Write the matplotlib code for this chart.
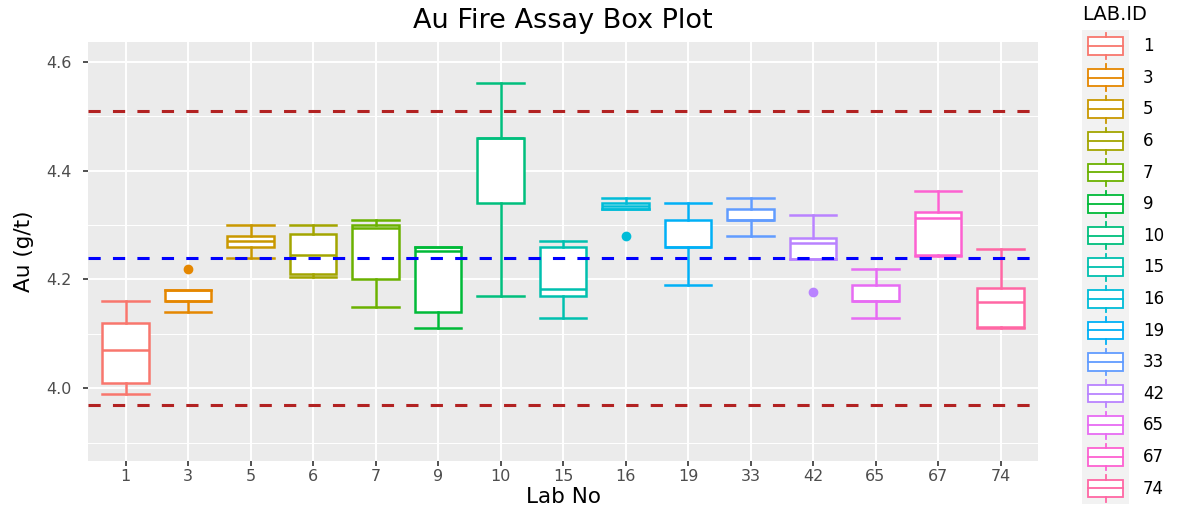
import matplotlib
matplotlib.use("Agg")
import matplotlib.pyplot as plt
import matplotlib.patches as mpatches
from matplotlib.lines import Line2D
from matplotlib.legend_handler import HandlerBase

plt.rcParams['font.family'] = ['DejaVu Sans']

labs = ["1", "3", "5", "6", "7", "9", "10", "15", "16", "19", "33", "42", "65", "67", "74"]
whislo = [3.99, 4.14, 4.24, 4.205, 4.15, 4.11, 4.17, 4.13, 4.33, 4.19, 4.28, 4.237, 4.13, 4.243, 4.11]
q1 = [4.01, 4.16, 4.26, 4.21, 4.20, 4.14, 4.34, 4.17, 4.33, 4.26, 4.31, 4.237, 4.16, 4.244, 4.113]
med = [4.07, 4.16, 4.27, 4.245, 4.294, 4.252, 4.46, 4.182, 4.335, 4.26, 4.31, 4.266, 4.16, 4.312, 4.159]
q3 = [4.12, 4.18, 4.28, 4.284, 4.30, 4.259, 4.46, 4.259, 4.34, 4.309, 4.33, 4.276, 4.189, 4.324, 4.184]
whishi = [4.16, 4.18, 4.30, 4.30, 4.31, 4.259, 4.56, 4.27, 4.35, 4.34, 4.35, 4.318, 4.22, 4.362, 4.256]
fliers = [[], [4.22], [], [], [], [], [], [], [4.28], [], [], [4.176], [], [], []]
colors = ["#F8766D", "#E58700", "#C99800", "#A3A500", "#6BB100", "#00BA38", "#00BF7D", "#00C0AF",
          "#00BCD8", "#00B0F6", "#619CFF", "#B983FF", "#E76BF3", "#FD61D1", "#FF67A4"]
limits = [3.97, 4.51]
target = 4.24

fig = plt.figure(figsize=(11.81, 5.11), dpi=100)
ax = fig.add_axes([88/1181, 50/511, 950/1181, 419/511])
ax.set_facecolor("#EBEBEB")

positions = list(range(1, len(labs) + 1))
stats = []
for i in range(len(labs)):
    stats.append(dict(whislo=whislo[i], q1=q1[i], med=med[i], q3=q3[i], whishi=whishi[i], fliers=fliers[i]))

bp = ax.bxp(stats, positions=positions, widths=0.75, capwidths=0.75, patch_artist=True,
            manage_ticks=False, zorder=3)
lw = 1.8
for i, c in enumerate(colors):
    bp['boxes'][i].set(facecolor="white", edgecolor=c, linewidth=lw)
    bp['medians'][i].set(color=c, linewidth=lw)
    for j in (2*i, 2*i + 1):
        bp['whiskers'][j].set(color=c, linewidth=lw)
        bp['caps'][j].set(color=c, linewidth=lw)
    bp['fliers'][i].set(marker='o', markerfacecolor=c, markeredgecolor=c, markersize=6)

for v in limits:
    ax.axhline(v, color="#B22222", lw=2.2, ls=(0, (4, 4)), zorder=4)
ax.axhline(target, color="#0000FF", lw=2.2, ls=(0, (4, 4)), zorder=4)

ax.set_xlim(0.4, len(labs) + 0.6)
ax.set_ylim(3.8665, 4.636)
ax.set_xticks(positions)
ax.set_xticklabels(labs)
ax.set_yticks([4.0, 4.2, 4.4, 4.6])
ax.set_yticks([3.9, 4.1, 4.3, 4.5], minor=True)
ax.grid(True, which='major', color='white', lw=1.4, zorder=0)
ax.grid(True, which='minor', axis='y', color='white', lw=0.7, zorder=0)
ax.set_axisbelow(True)
for s in ax.spines.values():
    s.set_visible(False)
ax.tick_params(which='major', length=3.5, width=1.2, color='#333333', labelcolor='#4D4D4D', labelsize=11.5)
ax.tick_params(axis='x', pad=2.5)
ax.tick_params(axis='y', pad=8)
ax.tick_params(which='minor', length=0)

ax.set_title("Au Fire Assay Box Plot", fontsize=19.5, pad=10)
ax.set_xlabel("Lab No", fontsize=15.5, labelpad=2)
ax.set_ylabel("Au (g/t)", fontsize=15.5, labelpad=9)


class BoxHandler(HandlerBase):
    def create_artists(self, legend, orig_handle, xdescent, ydescent, width, height, fontsize, trans):
        c = orig_handle.get_edgecolor()
        x0 = -xdescent
        y0 = -ydescent
        bg = mpatches.Rectangle((x0, y0), width, height, facecolor="#F2F2F2", edgecolor="none", transform=trans)
        bw = width * 0.76
        bx = x0 + (width - bw) / 2
        bh = height * 0.56
        by = y0 + (height - bh) / 2
        cx = x0 + width / 2
        box = mpatches.Rectangle((bx, by), bw, bh, facecolor="white", edgecolor=c, lw=1.3, transform=trans)
        m = Line2D([bx, bx + bw], [y0 + height / 2] * 2, color=c, lw=1.3, transform=trans)
        w1 = Line2D([cx, cx], [by + bh, y0 + height * 0.92], color=c, lw=1.3, transform=trans)
        w2 = Line2D([cx, cx], [by, y0 + height * 0.08], color=c, lw=1.3, transform=trans)
        return [bg, box, m, w1, w2]


handles = [mpatches.Patch(facecolor="white", edgecolor=c) for c in colors]
leg = fig.legend(handles, labs, handler_map={mpatches.Patch: BoxHandler()},
                 loc='upper left', bbox_to_anchor=(1082/1181, 1 - 5/511),
                 frameon=False, fontsize=12, title="LAB.ID", title_fontsize=14,
                 handlelength=2.82, handleheight=2.54, labelspacing=0,
                 handletextpad=0.84, borderpad=0, borderaxespad=0, alignment='left')
leg._legend_box.sep = 4.5

fig.savefig("out.png", dpi=100)
